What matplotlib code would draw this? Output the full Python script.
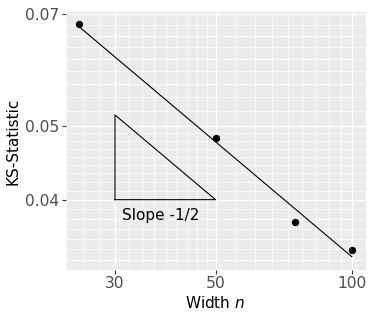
import numpy as np
import matplotlib
matplotlib.use("Agg")
import matplotlib.pyplot as plt

# ---- data ----
widths = [25, 50, 75, 100]
ks_stat = [0.0679, 0.0481, 0.0374, 0.0344]
x_breaks = [30, 50, 100]
x_labels = ["30", "50", "100"]
y_breaks = [0.04, 0.05, 0.07]
y_labels = ["0.04", "0.05", "0.07"]
tri_x = [30, 50]
tri_y0 = 0.04
slope = -0.5
slope_label = "Slope -1/2"

# fitted line with fixed slope -1/2 in log-log space
lx = np.log10(widths)
ly = np.log10(ks_stat)
intercept = ly.mean() - slope * lx.mean()
fit_x = np.array([min(widths), max(widths)])
fit_y = 10 ** (intercept + slope * np.log10(fit_x))


def minor_breaks(major, lo, hi, n=8):
    major = list(major)
    step0 = major[1] - major[0]
    ext = [major[0] - step0] + major
    out = []
    for a, b in zip(ext[:-1], ext[1:]):
        out.extend(np.linspace(a, b, n + 2)[1:-1])
    return [m for m in out if lo <= m <= hi]


fig = plt.figure(figsize=(3.74, 3.16), dpi=100)
ax = fig.add_axes([65.5 / 374, 46 / 316, 300 / 374, 258 / 316])
ax.set_facecolor("#EBEBEB")
ax.set_xscale("log")
ax.set_yscale("log")

# limits: 5% expansion in log space
xlo, xhi = np.log10(min(widths)), np.log10(max(widths))
dx = 0.05 * (xhi - xlo)
xlim = (10 ** (xlo - dx), 10 ** (xhi + dx))
ylim = (0.03236, 0.07042)
ax.set_xlim(*xlim)
ax.set_ylim(*ylim)

ax.set_xticks(x_breaks)
ax.set_xticklabels(x_labels)
ax.set_yticks(y_breaks)
ax.set_yticklabels(y_labels)
ax.set_xticks(minor_breaks(x_breaks, *xlim), minor=True)
ax.set_yticks(minor_breaks(y_breaks, *ylim), minor=True)
ax.set_xticklabels([], minor=True)
ax.set_yticklabels([], minor=True)

ax.grid(which="major", color="white", linewidth=1.0)
ax.grid(which="minor", color="white", linewidth=0.5)
ax.set_axisbelow(True)
for s in ax.spines.values():
    s.set_visible(False)
ax.tick_params(which="major", length=3.0, width=0.8, color="#333333",
               labelcolor="#4D4D4D", labelsize=11.2, pad=1.5)
ax.tick_params(which="minor", length=0)

# fitted line
ax.plot(fit_x, fit_y, color="black", linewidth=0.8, zorder=3)
# points
ax.scatter(widths, ks_stat, s=28, color="black", zorder=4, linewidths=0)

# slope triangle
ty1 = tri_y0 * (tri_x[1] / tri_x[0]) ** (-slope)
ax.plot([tri_x[0], tri_x[0], tri_x[1], tri_x[0]],
        [tri_y0, ty1, tri_y0, tri_y0], color="black", linewidth=0.8, zorder=3)
ax.text(37.9, tri_y0 * 0.952, slope_label,
        ha="center", va="center", fontsize=11, color="black")

ax.set_xlabel("Width $n$", fontsize=11, color="black", labelpad=3)
ax.set_ylabel("KS-Statistic", fontsize=11, color="black", labelpad=3)

fig.savefig("out.png", dpi=100)
